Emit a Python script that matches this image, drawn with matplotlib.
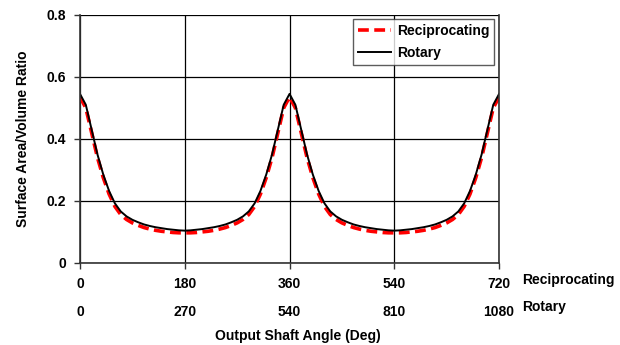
import matplotlib
matplotlib.use("Agg")
import matplotlib.pyplot as plt

plt.rcParams['font.family'] = ['Liberation Sans', 'DejaVu Sans']
plt.rcParams['font.weight'] = 'bold'
plt.rcParams['axes.labelweight'] = 'bold'

# half-cycle samples (0..180 deg reciprocating), mirrored for the full curve
half_angles = [0, 10, 20, 30, 40, 50, 60, 70, 80, 90, 100, 110, 120, 130, 140, 150, 160, 170, 180]
rotary_half = [0.545, 0.51, 0.43, 0.35, 0.285, 0.232, 0.192, 0.166, 0.150, 0.139, 0.131,
               0.124, 0.119, 0.115, 0.112, 0.109, 0.107, 0.105, 0.104]
recip_half = [0.535, 0.50, 0.42, 0.34, 0.275, 0.222, 0.182, 0.156, 0.140, 0.129, 0.121,
              0.114, 0.109, 0.105, 0.102, 0.100, 0.098, 0.097, 0.097]

recip_ticks = [0, 180, 360, 540, 720]
rotary_ticks = [0, 270, 540, 810, 1080]
y_ticks = [0, 0.2, 0.4, 0.6, 0.8]

# build full 0..720 curves by mirroring the half cycle
angles, rotary, recip = [], [], []
for k in range(4):
    seg_a = half_angles if k % 2 == 0 else half_angles[::-1]
    seg_r = rotary_half if k % 2 == 0 else rotary_half[::-1]
    seg_p = recip_half if k % 2 == 0 else recip_half[::-1]
    for a, r, p in zip(seg_a, seg_r, seg_p):
        x = k * 180 + (a if k % 2 == 0 else 180 - a)
        if angles and x == angles[-1]:
            continue
        angles.append(x)
        rotary.append(r)
        recip.append(p)

fig = plt.figure(figsize=(6.2, 3.45), dpi=100)
ax = fig.add_axes([0.129, 0.238, 0.676, 0.719])

ax.plot(angles, recip, color='red', linestyle='--', lw=2.6, dashes=(3, 1.5), label='Reciprocating')
ax.plot(angles, rotary, color='black', lw=1.4, label='Rotary')

ax.set_xlim(0, 720)
ax.set_ylim(0, 0.8)
ax.set_xticks(recip_ticks)
ax.set_yticks(y_ticks)
ax.set_yticklabels(['0', '0.2', '0.4', '0.6', '0.8'])
ax.grid(True, color='black', lw=0.9)
ax.spines['top'].set_visible(False)
for s in ['left', 'bottom', 'right']:
    ax.spines[s].set_linewidth(1.2)
    ax.spines[s].set_color('#333333')
ax.tick_params(axis='both', labelsize=10, length=4, width=1.0, color='#333333', pad=6)

sec = ax.secondary_xaxis(-0.17, functions=(lambda x: x * 1.5, lambda x: x / 1.5))
sec.set_xticks(rotary_ticks)
sec.spines['bottom'].set_visible(False)
sec.tick_params(length=0, labelsize=10, pad=0)

ax.text(1.055, -0.07, 'Reciprocating', transform=ax.transAxes, fontsize=10, va='center', ha='left')
ax.text(1.055, -0.177, 'Rotary', transform=ax.transAxes, fontsize=10, va='center', ha='left')

ax.set_ylabel('Surface Area/Volume Ratio', fontsize=10, fontweight='bold', labelpad=12)
ax.text(0.519, -0.294, 'Output Shaft Angle (Deg)', transform=ax.transAxes, fontsize=10,
        ha='center', va='center')

leg = ax.legend(loc='upper right', fontsize=10, frameon=True, fancybox=False,
                edgecolor='#333333', handlelength=2.4, handletextpad=0.4,
                borderpad=0.35, labelspacing=0.6, borderaxespad=0,
                bbox_to_anchor=(0.988, 0.984))
leg.get_frame().set_linewidth(1.0)

fig.savefig('out.png', dpi=100)
